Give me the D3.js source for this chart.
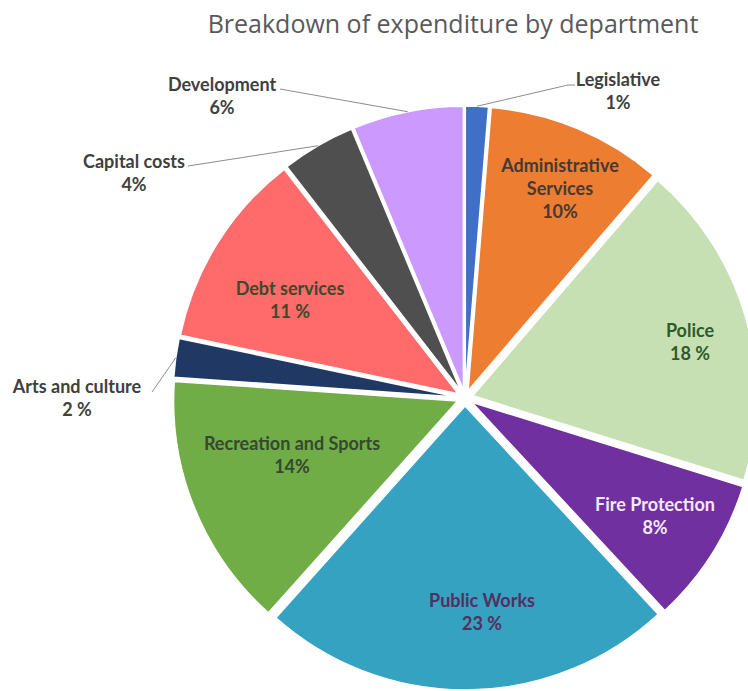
<!DOCTYPE html>
<html><head><meta charset="utf-8">
<script src="https://cdn.jsdelivr.net/npm/d3@7/dist/d3.min.js"></script>
<style>
html,body{margin:0;padding:0;background:#fff;}
svg{display:block;}
</style></head>
<body>
<svg id="chart" width="748" height="691"></svg>
<script>
// ---- data ----
const categories = ["Legislative","Administrative Services","Police","Fire Protection","Public Works","Recreation and Sports","Arts and culture","Debt services","Capital costs","Development"];
const values = [1.3, 10.0, 18.5, 8.3, 23.5, 14.5, 2.2, 11.2, 4.2, 6.3];
const percentLabels = ["1%","10%","18 %","8%","23 %","14%","2 %","11 %","4%","6%"];
const labelLines = [["Legislative"],["Administrative","Services"],["Police"],["Fire Protection"],["Public Works"],["Recreation and Sports"],["Arts and culture"],["Debt services"],["Capital costs"],["Development"]];
const colors = ["#3F6FC6","#ED7D31","#C6E0B4","#7030A0","#35A2C1","#70AD47","#1F3864","#FF6B6B","#4F4F4F","#CC99FF"];
const textColors = ["#404040","#453a33","#2f5a2a","#f3e8f7","#52305f","#36482f","#404040","#3b4a2a","#404040","#404040"];
const outside = [true,false,false,false,false,false,true,false,true,true];

// ---- layout ----
const svg = d3.select("#chart");
const cx = 465, cy = 398, r = 284, explode = 8;
const font = "Lato, 'Open Sans', sans-serif";

svg.append("text").attr("x", 453).attr("y", 33).attr("text-anchor","middle")
  .attr("font-family","'Open Sans', sans-serif").attr("font-size", 25)
  .attr("fill","#595959").text("Breakdown of expenditure by department");

const data = categories.map((c,i)=>({name:c, value:values[i], i}));
const pie = d3.pie().value(d=>d.value).sort(null);
const arcs = pie(data);
const arc = d3.arc().innerRadius(0).outerRadius(r);
const g = svg.append("g").attr("transform",`translate(${cx},${cy})`);

const offset = a => { const m=(a.startAngle+a.endAngle)/2; return [explode*Math.sin(m), -explode*Math.cos(m)]; };

g.selectAll("path.slice").data(arcs).enter().append("path")
  .attr("class","slice")
  .attr("transform", a=>`translate(${offset(a)})`)
  .attr("d", arc)
  .attr("fill", a=>colors[a.data.i])
  .attr("stroke","#ffffff").attr("stroke-width",1.5);

const fs = 18, lh = 23;

// inside labels (label block centres, layout only)
const insidePos = {"Administrative Services":[560,189], "Police":[690,342], "Fire Protection":[655,516], "Public Works":[482,612], "Recreation and Sports":[292,455], "Debt services":[290,300]};
arcs.filter(a=>!outside[a.data.i]).forEach(a=>{
  const [x,y] = insidePos[a.data.name];
  const lines = labelLines[a.data.i].concat([percentLabels[a.data.i]]);
  const t = svg.append("text").attr("text-anchor","middle")
    .attr("font-family",font).attr("font-weight","bold").attr("font-size",fs)
    .attr("fill",textColors[a.data.i]);
  const y0 = y - (lines.length-1)*lh/2 + fs*0.35;
  lines.forEach((ln,k)=>t.append("tspan").attr("x",x).attr("y",y0+k*lh).text(ln));
});

// outside labels with leader lines
const textPos = {"Legislative":[618,86], "Development":[222,91], "Capital costs":[134,168], "Arts and culture":[77,393]};
const leaderEnd = {"Legislative":[[568,85],[575,85]], "Development":[[280,89]], "Capital costs":[[188,166]], "Arts and culture":[[152,392]]};
arcs.filter(a=>outside[a.data.i]).forEach(a=>{
  const name = a.data.name;
  const m=(a.startAngle+a.endAngle)/2;
  const sx = cx + (r+explode)*Math.sin(m), sy = cy - (r+explode)*Math.cos(m);
  const pts = [[sx,sy]].concat(leaderEnd[name]);
  svg.append("path").attr("d", d3.line()(pts)).attr("fill","none")
    .attr("stroke","#8c8c8c").attr("stroke-width",1);
  const [tx,ty] = textPos[name];
  const t = svg.append("text").attr("text-anchor","middle")
    .attr("font-family",font).attr("font-weight","bold").attr("font-size",fs)
    .attr("fill","#404040");
  t.append("tspan").attr("x",tx).attr("y",ty).text(name);
  t.append("tspan").attr("x",tx).attr("y",ty+lh).text(percentLabels[a.data.i]);
});
</script>
</body></html>
